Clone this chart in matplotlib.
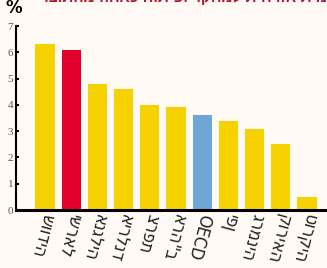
import matplotlib
matplotlib.use('Agg')
import matplotlib.pyplot as plt

# הוצאה על מו"פ כאחוז מהתוצר
countries = ['שוודיה', 'ישראל', 'אנגליה', 'אירלנד', 'צרפת', 'ארה"ב', 'OECD',
             'יפן', 'גרמניה', 'קוריאה', 'טורקיה']
values = [6.3, 6.1, 4.8, 4.6, 4.0, 3.9, 3.6, 3.4, 3.1, 2.5, 0.5]
yticks = [0, 1, 2, 3, 4, 5, 6, 7]
title = 'הוצאה לאומית אזרחית למחקר ופיתוח כאחוז מהתוצר'

yellow = '#f5d200'
red = '#e2002a'
blue = '#6fa6d8'
bg = '#fffaf6'
colors = []
for c in countries:
    if c == 'ישראל':
        colors.append(red)
    elif c == 'OECD':
        colors.append(blue)
    else:
        colors.append(yellow)

fig = plt.figure(figsize=(3.27, 2.68), dpi=100, facecolor=bg)
ax = fig.add_axes([16/327, 58/268, 310/327, 184/268])
ax.set_facecolor(bg)

x = list(range(len(values)))
ax.bar(x, values, width=0.74, color=colors, edgecolor='none')

ax.set_xlim(-1.107, 10.725)
ax.set_ylim(0, 7)
ax.set_yticks(yticks)
ax.set_yticklabels([str(t) for t in yticks], family='Liberation Serif',
                   fontsize=8, color='#555555')
ax.tick_params(axis='y', direction='in', length=2.5, width=1.5, pad=2, color='black')

# תוויות הארצות, מסובבות
ax.set_xticks(x)
ax.set_xticklabels([])
ax.tick_params(axis='x', length=0)
for xi, c in zip(x, countries):
    ax.text(xi + 0.12, -0.15, c, rotation=-105, rotation_mode='anchor',
            ha='left', va='center', fontsize=13, color='#222222',
            family='DejaVu Sans', stretch='condensed')

for s in ['top', 'right']:
    ax.spines[s].set_visible(False)
ax.spines['left'].set_linewidth(1.5)
ax.spines['bottom'].set_linewidth(2.2)

fig.text(14/327, 1 - 8/268, '%', fontsize=12, fontweight='bold', ha='center', va='center')
fig.text(40/327, 1 + 3/268, title[::-1], fontsize=11, fontweight='bold',
         color='#b3142a', ha='left', va='center',
         family=['Liberation Sans', 'DejaVu Sans'])

fig.savefig('out.png', dpi=100, facecolor=bg)
